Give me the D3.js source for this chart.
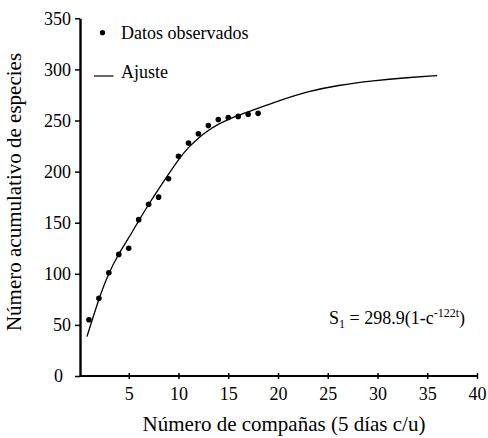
<!DOCTYPE html>
<html>
<head>
<meta charset="utf-8">
<script src="https://cdn.jsdelivr.net/npm/d3@7"></script>
<style>
    body { margin: 0; background: #ffffff; }
</style>
</head>
<body>
<svg id="chart" width="488" height="438"></svg>
<script>
// observed cumulative species per campaign
const campaigns = [1, 2, 3, 4, 5, 6, 7, 8, 9, 10, 11, 12, 13, 14, 15, 16, 17, 18];
const observed = [55, 76, 101, 119, 125, 153, 168, 175, 193, 215, 228, 237, 245, 251, 253, 254, 256, 257];

// fitted curve
const fitX = [0.8, 2, 3, 4, 5, 6, 7, 8, 9, 10, 11, 12, 13, 14, 15, 16, 17, 18, 20, 23, 26, 29.6, 33, 36];
const fitY = [38.5, 76, 101, 120, 135, 152, 168, 183, 197.5, 212, 224, 233, 240.5, 246.5, 251, 255, 258.5, 262, 269, 278.5, 284.5, 289, 292, 294];

const xTicks = [5, 10, 15, 20, 25, 30, 35, 40];
const yTicks = [0, 50, 100, 150, 200, 250, 300, 350];

const FONT = '"Liberation Serif", Tinos, "Times New Roman", "Nimbus Roman", serif';

const svg = d3.select("#chart").attr("font-family", FONT);

let x = d3.scaleLinear().domain([0, 40]).range([79, 477]);
let y = d3.scaleLinear().domain([0, 350]).range([376, 18.3]);

// y axis
let yAxis = svg.append("g")
    .attr("transform", "translate(80,0)")
    .call(d3.axisLeft(y).tickValues(yTicks).tickSize(5).tickPadding(4).tickSizeOuter(0))
    .attr("font-family", FONT);
yAxis.select(".domain").attr("stroke-width", 2.4);
yAxis.selectAll(".tick line").attr("stroke-width", 1.5);
yAxis.selectAll(".tick text")
    .attr("font-size", 18)
    .attr("dx", d => d == 0 ? -8 : 0);

// x axis, ticks cross the line
let xAxis = svg.append("g")
    .attr("transform", "translate(0,376)")
    .call(d3.axisBottom(x).tickValues(xTicks).tickSize(3).tickPadding(8).tickSizeOuter(0))
    .attr("font-family", FONT);
xAxis.select(".domain").attr("stroke-width", 2.2)
    .attr("d", `M80,0H${x(40)}`);
xAxis.selectAll(".tick line").attr("y1", -3).attr("stroke-width", 1.5);
xAxis.selectAll(".tick text").attr("font-size", 18);

// axis titles
svg.append("text")
    .attr("x", 284)
    .attr("y", 431)
    .attr("text-anchor", "middle")
    .attr("font-size", 21)
    .text("Número de compañas (5 días c/u)");

svg.append("text")
    .attr("transform", "translate(21,192) rotate(-90)")
    .attr("text-anchor", "middle")
    .attr("font-size", 21)
    .text("Número acumulativo de especies");

// fitted curve
let line = d3.line()
    .x(d => x(d[0]))
    .y(d => y(d[1]))
    .curve(d3.curveBasis);
svg.append("path")
    .datum(d3.zip(fitX, fitY))
    .attr("d", line)
    .attr("fill", "none")
    .attr("stroke", "#000000")
    .attr("stroke-width", 1.3);

// observed points
svg.selectAll(".obs")
    .data(d3.zip(campaigns, observed))
    .enter()
    .append("circle")
    .attr("class", "obs")
    .attr("cx", d => x(d[0]))
    .attr("cy", d => y(d[1]))
    .attr("r", 2.8)
    .style("fill", "#000000");

// legend
svg.append("circle").attr("cx", 102.5).attr("cy", 32.7).attr("r", 2.6).style("fill", "#000000");
svg.append("text").attr("x", 121).attr("y", 38.5).attr("font-size", 18).text("Datos observados");
svg.append("line")
    .attr("x1", 94).attr("x2", 113.5).attr("y1", 76).attr("y2", 76)
    .attr("stroke", "#000000").attr("stroke-width", 1.2);
svg.append("text").attr("x", 121).attr("y", 77.5).attr("font-size", 18).text("Ajuste");

// equation
let eq = svg.append("text").attr("x", 329).attr("y", 324).attr("font-size", 18);
eq.append("tspan").text("S");
eq.append("tspan").attr("dy", 4).attr("font-size", 12).text("1");
eq.append("tspan").attr("dy", -4).text(" = 298.9(1-c");
eq.append("tspan").attr("dy", -7).attr("font-size", 12).text("-122t");
eq.append("tspan").attr("dy", 7).text(")");
</script>
</body>
</html>
